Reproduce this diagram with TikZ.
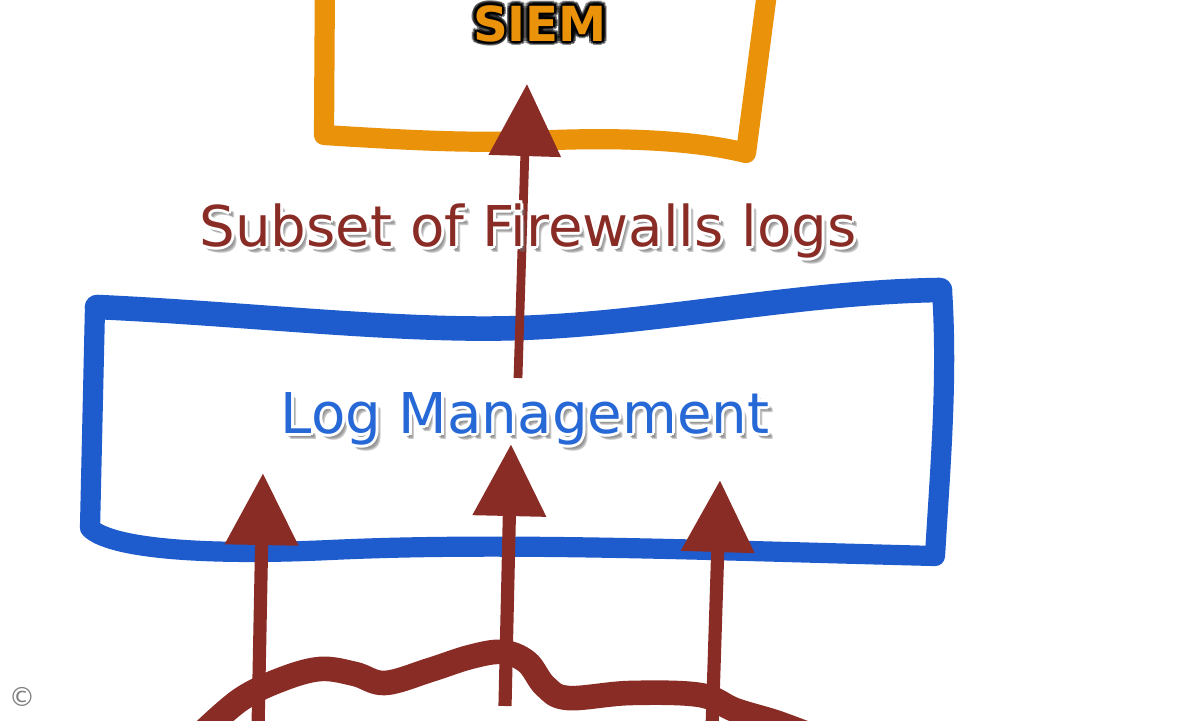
\documentclass[tikz,border=0pt]{standalone}
\usepackage{fontspec}
\setmainfont{DejaVu Sans}
\usetikzlibrary{arrows.meta}
\definecolor{siemorange}{RGB}{234,146,10}
\definecolor{lmblue}{RGB}{30,92,205}
\definecolor{lmtext}{RGB}{38,104,214}
\definecolor{arrowred}{RGB}{138,44,38}
\definecolor{halogrey}{RGB}{110,110,110}
\begin{document}
\begin{tikzpicture}[x=0.02cm,y=-0.02cm,
  handline/.style={line width=11.5pt,line cap=round,line join=round},
  siembox/.style={handline,draw=siemorange},
  lmbox/.style={handline,draw=lmblue},
  cloud/.style={line width=14pt,line cap=round,line join=round,draw=arrowred},
  flow/.style={draw=arrowred,line width=7.5pt,-{Triangle[length=41pt,width=40pt]}},
  lbl/.style={inner sep=0pt,anchor=base,font=\fontsize{32}{38}\selectfont},
  siemlbl/.style={inner sep=0pt,anchor=base,font=\fontsize{27.5}{32}\selectfont\bfseries},
]
\useasboundingbox (0,0) rectangle (1200,720);
\fill[white] (0,0) rectangle (1200,720);
\clip (0,0) rectangle (1200,720);

% SIEM box (hand drawn, open at the top)
\draw[siembox] (325,-30) -- (324,135) .. controls (420,141) and (470,143) .. (530,141)
  .. controls (610,137) and (690,139) .. (746,153) -- (770,-30);

% Log Management box
\draw[lmbox] (95,307) .. controls (250,314) and (400,332) .. (520,328)
  .. controls (660,323) and (800,292) .. (942,290)
  .. controls (948,380) and (940,470) .. (935,556)
  .. controls (700,550) and (500,542) .. (330,550)
  .. controls (200,556) and (110,548) .. (90,528) -- cycle;
\draw[lmbox,line width=14pt] (97,307) .. controls (250,314) and (400,332) .. (520,328)
  .. controls (660,323) and (800,292) .. (940,290);

% sources (cloud)
\draw[cloud] plot[smooth,tension=0.6] coordinates {(200,735) (240,700) (280,680) (320,669)
  (355,674) (385,683) (430,670) (470,657) (502,652) (527,662) (545,686) (568,698)
  (630,693) (700,695) (735,710) (775,722) (810,735)};

% connectors
\coordinate (siemtip) at (527,84);
\coordinate (lmtop) at (518,378);
\coordinate (src1) at (258,730);
\coordinate (tip1) at (263,473);
\coordinate (src2) at (505,706);
\coordinate (tip2) at (511,444);
\coordinate (src3) at (712,730);
\coordinate (tip3) at (720,480);
\draw[flow,line width=5pt] (lmtop) -- (siemtip);
\draw[flow] (src1) -- (tip1);
\draw[flow] (src2) -- (tip2);
\draw[flow] (src3) -- (tip3);

% SIEM label
\coordinate (siempos) at (540,41);
\foreach \a in {0,30,...,330}{
  \node[siemlbl,text=black,opacity=0.45] (siemglow\a) at ([shift={(\a:4.5)}]siempos) {SIEM};
}
\foreach \a in {0,45,...,315}{
  \node[siemlbl,text=black] (siemedge\a) at ([shift={(\a:2)}]siempos) {SIEM};
}
\node[siemlbl,text=siemorange] (siem) at (siempos) {SIEM};

% Subset label
\coordinate (subsetpos) at (528,246);
\foreach \s in {1,2,3}{
  \node[lbl,text=halogrey,opacity=0.35] (subsetshadow\s) at ([shift={(2+\s,3+\s)}]subsetpos) {Subset of Firewalls logs};
}
\foreach \a in {0,45,...,315}{
  \node[lbl,text=white] (subsethalo\a) at ([shift={(\a:3)}]subsetpos) {Subset of Firewalls logs};
}
\node[lbl,text=arrowred] (subset) at (subsetpos) {Subset of Firewalls logs};

% Log Management label
\coordinate (lmpos) at (525,433);
\foreach \s in {1,2,3}{
  \node[lbl,text=halogrey,opacity=0.35] (lmshadow\s) at ([shift={(2+\s,3+\s)}]lmpos) {Log Management};
}
\foreach \a in {0,45,...,315}{
  \node[lbl,text=white] (lmhalo\a) at ([shift={(\a:3)}]lmpos) {Log Management};
}
\node[lbl,text=lmtext] (logmgmt) at (lmpos) {Log Management};

% copyright mark
\node[inner sep=0pt,text=gray,font=\fontsize{15}{17}\selectfont] (copyright) at (22,697) {©};
\end{tikzpicture}
\end{document}
